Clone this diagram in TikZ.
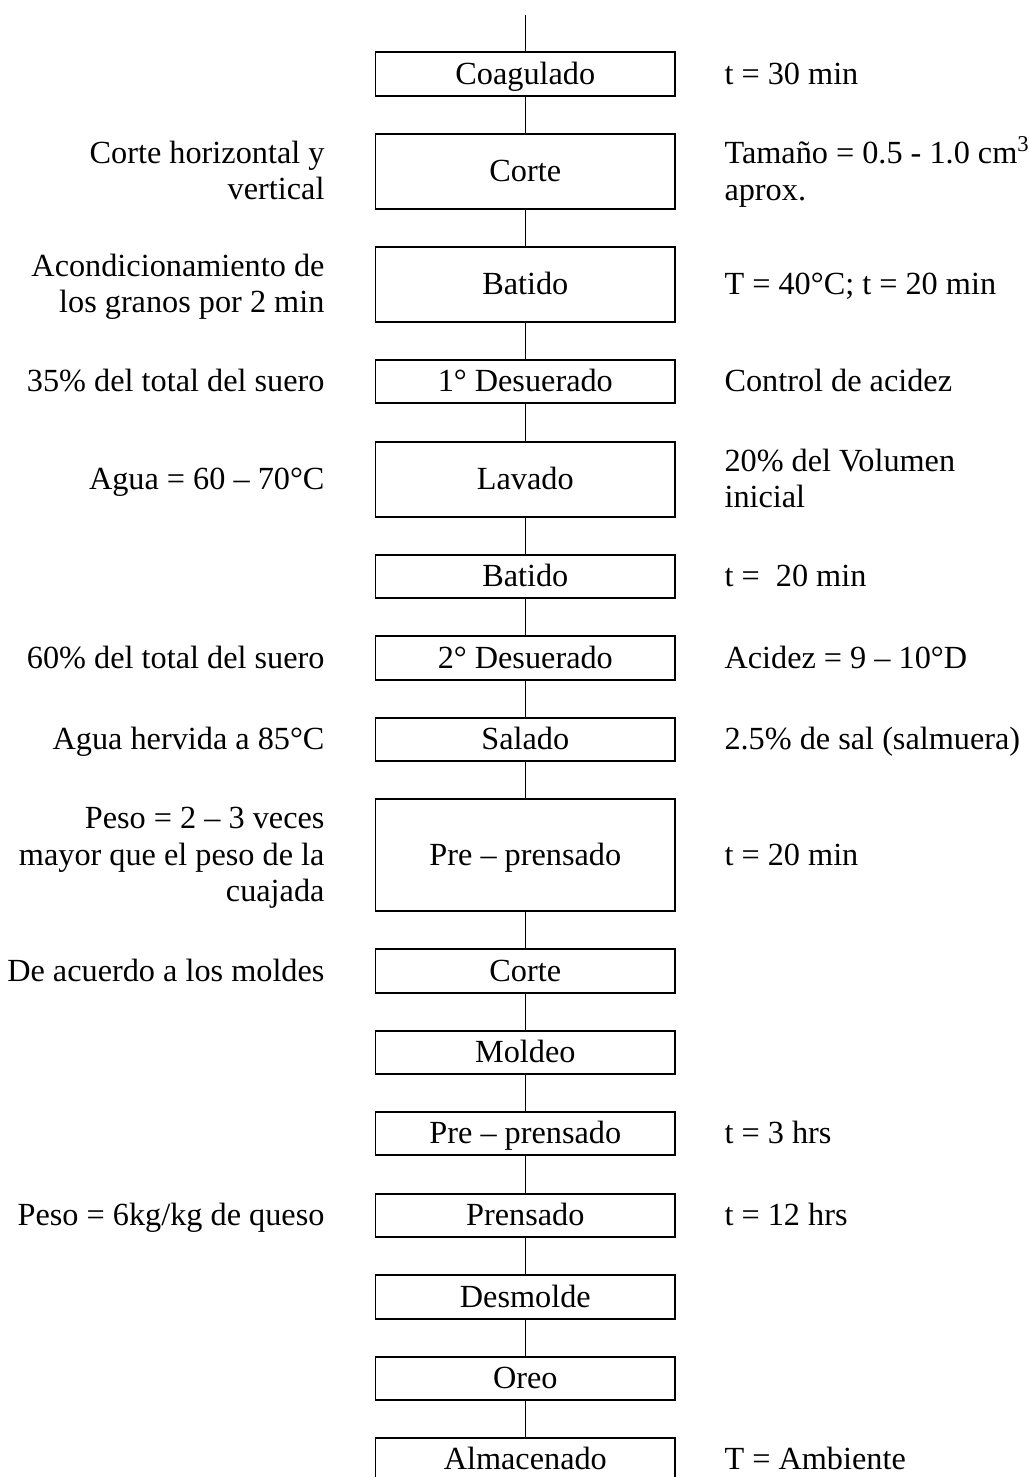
\documentclass[tikz,border=0pt]{standalone}
\usepackage{fontspec}
\setmainfont{Liberation Serif}
\newcommand{\lnstr}{\strut}
\begin{document}
\begin{tikzpicture}[x=0.375pt, y=-0.375pt,
  every node/.style={font=\fontsize{12.1}{13.8}\selectfont},
  stepbox/.style={draw, line width=0.6pt, rectangle, inner sep=0pt,
    minimum width=112.3pt, minimum height=#1*0.375pt,
    text height=9.5pt, text depth=2pt},
  lefttxt/.style={anchor=east, align=right, inner sep=0pt, yshift=-1pt},
  righttxt/.style={anchor=west, align=left, inner sep=0pt, yshift=-1pt},
  conn/.style={line width=0.6pt}]
\useasboundingbox (0,0) rectangle (1029,1477);

\node[stepbox=44]  (b1)  at (525.3,74)     {Coagulado};
\node[stepbox=75]  (b2)  at (525.3,171.5)  {Corte};
\node[stepbox=75]  (b3)  at (525.3,284.5)  {Batido};
\node[stepbox=43]  (b4)  at (525.3,381.5)  {1° Desuerado};
\node[stepbox=75]  (b5)  at (525.3,479.5)  {Lavado};
\node[stepbox=43]  (b6)  at (525.3,576.5)  {Batido};
\node[stepbox=44]  (b7)  at (525.3,658)    {2° Desuerado};
\node[stepbox=43]  (b8)  at (525.3,739.5)  {Salado};
\node[stepbox=112] (b9)  at (525.3,855)    {Pre – prensado};
\node[stepbox=44]  (b10) at (525.3,971)    {Corte};
\node[stepbox=43]  (b11) at (525.3,1052.5) {Moldeo};
\node[stepbox=43]  (b12) at (525.3,1133.5) {Pre – prensado};
\node[stepbox=43]  (b13) at (525.3,1215.5) {Prensado};
\node[stepbox=44]  (b14) at (525.3,1297)   {Desmolde};
\node[stepbox=43]  (b15) at (525.3,1378.5) {Oreo};
\node[stepbox=43]  (b16) at (525.3,1459.5) {Almacenado};

\coordinate (top) at (525.3,15);
\draw[conn] (top) -- (b1.north);
\foreach \a/\b in {b1/b2,b2/b3,b3/b4,b4/b5,b5/b6,b6/b7,b7/b8,b8/b9,b9/b10,b10/b11,b11/b12,b12/b13,b13/b14,b14/b15,b15/b16}
  \draw[conn] (\a.south) -- (\b.north);

% left annotations
\node[lefttxt] (l2)  at (325,171.5)  {\lnstr Corte horizontal y\\ \lnstr vertical};
\node[lefttxt] (l3)  at (325,284.5)  {\lnstr Acondicionamiento de\\ \lnstr los granos por 2 min};
\node[lefttxt] (l4)  at (325,381.5)  {\lnstr 35\% del total del suero};
\node[lefttxt] (l5)  at (325,479.5)  {\lnstr Agua = 60 – 70°C};
\node[lefttxt] (l7)  at (325,658)    {\lnstr 60\% del total del suero};
\node[lefttxt] (l8)  at (325,739.5)  {\lnstr Agua hervida a 85°C};
\node[lefttxt] (l9)  at (325,855)    {\lnstr Peso = 2 – 3 veces\\ \lnstr mayor que el peso de la\\ \lnstr cuajada};
\node[lefttxt] (l10) at (325,971)    {\lnstr De acuerdo a los moldes};
\node[lefttxt] (l13) at (325,1215.5) {\lnstr Peso = 6kg/kg de queso};

% right annotations
\node[righttxt] (r1)  at (724,74)     {\lnstr t = 30 min};
\node[righttxt] (r2)  at (724,171.5)  {\lnstr Tamaño = 0.5 - 1.0 cm\textsuperscript{3}\\ \lnstr aprox.};
\node[righttxt] (r3)  at (724,284.5)  {\lnstr T = 40°C; t = 20 min};
\node[righttxt] (r4)  at (724,381.5)  {\lnstr Control de acidez};
\node[righttxt] (r5)  at (724,479.5)  {\lnstr 20\% del Volumen\\ \lnstr inicial};
\node[righttxt] (r6)  at (724,576.5)  {\lnstr t = \ 20 min};
\node[righttxt] (r7)  at (724,658)    {\lnstr Acidez = 9 – 10°D};
\node[righttxt] (r8)  at (724,739.5)  {\lnstr 2.5\% de sal (salmuera)};
\node[righttxt] (r9)  at (724,855)    {\lnstr t = 20 min};
\node[righttxt] (r12) at (724,1133.5) {\lnstr t = 3 hrs};
\node[righttxt] (r13) at (724,1215.5) {\lnstr t = 12 hrs};
\node[righttxt] (r16) at (724,1459.5) {\lnstr T = Ambiente};
\end{tikzpicture}
\end{document}
